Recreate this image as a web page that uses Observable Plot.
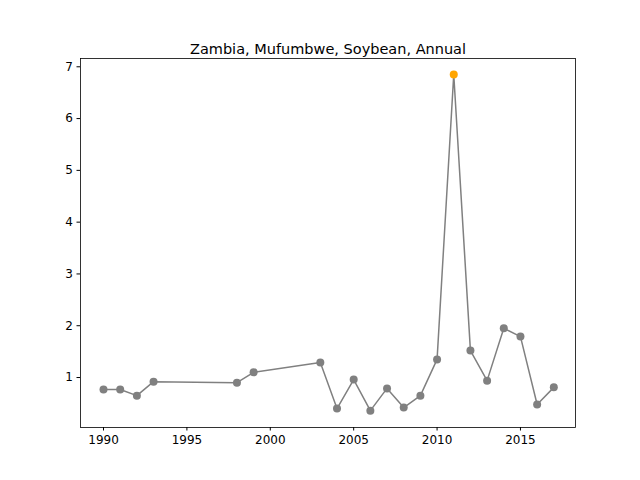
<!DOCTYPE html>
<html>
<head>
<meta charset="utf-8">
<script src="https://cdn.jsdelivr.net/npm/d3@7"></script>
<script src="https://cdn.jsdelivr.net/npm/@observablehq/plot@0.6"></script>
<style>
  body { margin: 0; background: #fff; }
  svg { font-family: "DejaVu Sans", sans-serif; }
</style>
</head>
<body>
<div id="chart"></div>
<script>
const years = [1990, 1991, 1992, 1993, 1998, 1999, 2003, 2004, 2005, 2006, 2007, 2008, 2009, 2010, 2011, 2012, 2013, 2014, 2015, 2016, 2017]
const values = [0.77, 0.77, 0.65, 0.92, 0.90, 1.10, 1.29, 0.40, 0.96, 0.36, 0.79, 0.42, 0.65, 1.35, 6.85, 1.52, 0.94, 1.95, 1.79, 0.48, 0.81]
const highlightYear = 2011
const title = 'Zambia, Mufumbwe, Soybean, Annual'

const data = years.map((y, i) => ({year: y, value: values[i]}))

const chart = Plot.plot({
  width: 640,
  height: 480,
  marginLeft: 80,
  marginRight: 65,
  marginTop: 58,
  marginBottom: 53,
  style: {fontSize: '12px', fontFamily: '"DejaVu Sans", sans-serif', color: '#000'},
  x: {domain: [1988.62, 2018.3], ticks: [1990, 1995, 2000, 2005, 2010, 2015], tickFormat: d => String(d), tickSize: 3.5, tickPadding: 4, label: null},
  y: {domain: [0.035, 7.16], ticks: [1, 2, 3, 4, 5, 6, 7], tickSize: 3.5, tickPadding: 4, label: null},
  marks: [
    Plot.frame({stroke: '#000', strokeWidth: 0.8}),
    Plot.line(data, {x: 'year', y: 'value', stroke: 'gray', strokeWidth: 1.5}),
    Plot.dot(data, {x: 'year', y: 'value', r: 4, fill: d => d.year === highlightYear ? 'orange' : 'gray', stroke: 'none'}),
    Plot.text([title], {text: d => d, frameAnchor: 'top', dy: -15, fontSize: 14.5, fill: '#000'})
  ]
})

d3.select('#chart').append(() => chart)
</script>
</body>
</html>
